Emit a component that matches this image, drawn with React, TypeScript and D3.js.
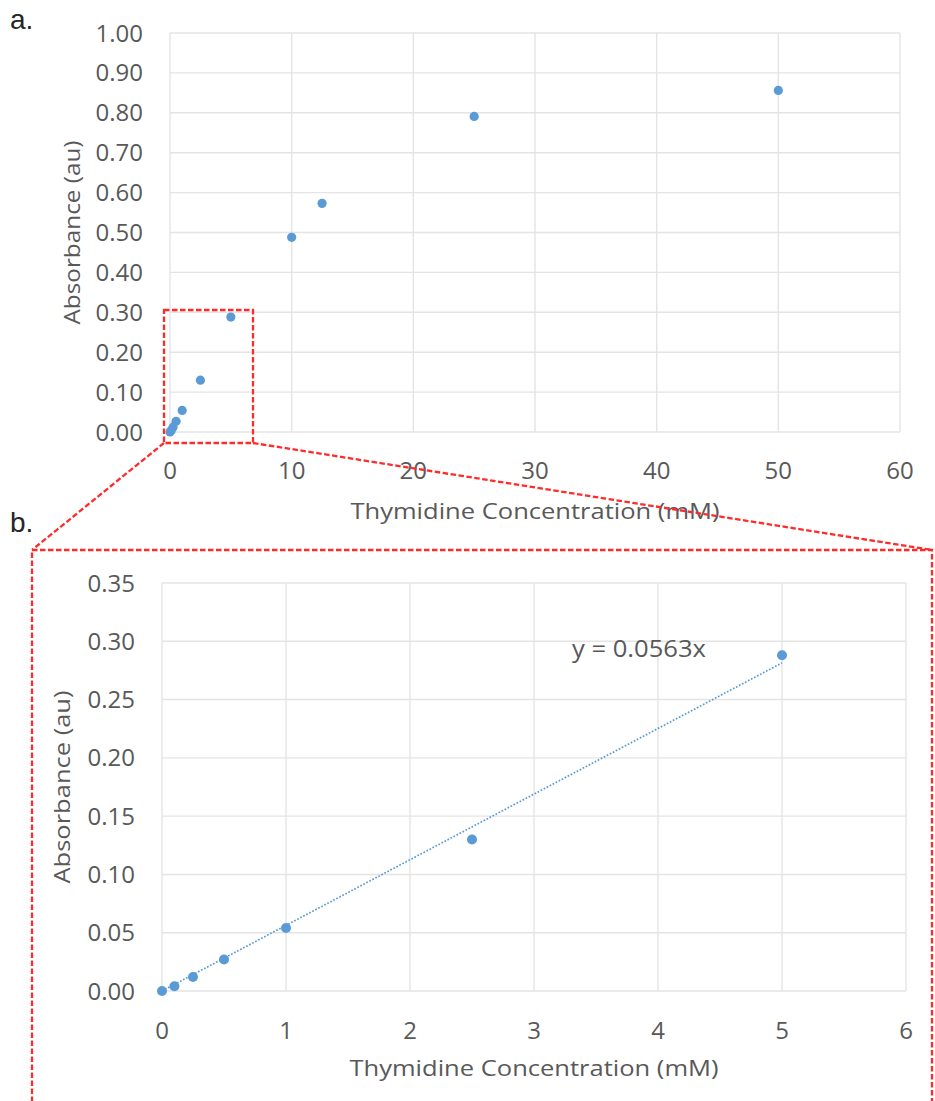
import { useEffect, useRef } from "react";
import * as d3 from "d3";

const BLUE = "#5B9BD5";
const RED = "#FF2B2B";
const GRID = "#E4E4E4";
const TXT = "#595959";
const FONT = "'Open Sans', 'DejaVu Sans', sans-serif";

// measured concentrations (mM) and absorbance (au)
const concAll = [0, 0.1, 0.25, 0.5, 1, 2.5, 5, 10, 12.5, 25, 50];
const absAll = [0, 0.004, 0.012, 0.027, 0.054, 0.13, 0.288, 0.488, 0.573, 0.791, 0.856];
const concLow = [0, 0.1, 0.25, 0.5, 1, 2.5, 5];
const absLow = [0, 0.004, 0.012, 0.027, 0.054, 0.13, 0.288];

const slope = 0.0563;
const trendX = [0, 5];

const topXTicks = [0, 10, 20, 30, 40, 50, 60];
const topYTicks = [0, 0.1, 0.2, 0.3, 0.4, 0.5, 0.6, 0.7, 0.8, 0.9, 1.0];
const botXTicks = [0, 1, 2, 3, 4, 5, 6];
const botYTicks = [0, 0.05, 0.1, 0.15, 0.2, 0.25, 0.3, 0.35];

const xTitle = "Thymidine Concentration (mM)";
const yTitle = "Absorbance (au)";

export default function App() {
  const svgRef = useRef<SVGSVGElement>(null);

  useEffect(() => {
    if (!svgRef.current) return;
    const svg = d3.select(svgRef.current);
    svg.selectAll("*").remove();

    const drawPanel = (opt: {
      x: d3.ScaleLinear<number, number>;
      y: d3.ScaleLinear<number, number>;
      xTicks: number[];
      yTicks: number[];
      yLabelX: number;
      xLabelY: number;
      xTitleY: number;
      yTitleX: number;
      yTitleLen: number;
    }) => {
      const { x, y } = opt;
      const g = svg.append("g");
      const [x0, x1] = x.range();
      const [y0, y1] = y.range();

      // grid
      g.selectAll("line.h").data(opt.yTicks).join("line")
        .attr("x1", x0).attr("x2", x1)
        .attr("y1", d => y(d)).attr("y2", d => y(d))
        .attr("stroke", GRID).attr("stroke-width", 1.4);
      g.selectAll("line.v").data(opt.xTicks).join("line")
        .attr("y1", y0).attr("y2", y1)
        .attr("x1", d => x(d)).attr("x2", d => x(d))
        .attr("stroke", GRID).attr("stroke-width", 1.4);

      // tick labels
      g.selectAll("text.yt").data(opt.yTicks).join("text")
        .attr("x", opt.yLabelX).attr("y", d => y(d) + 8.5)
        .attr("text-anchor", "end").attr("font-size", 24)
        .attr("fill", TXT).attr("font-family", FONT)
        .text(d => d.toFixed(2));
      g.selectAll("text.xt").data(opt.xTicks).join("text")
        .attr("x", d => x(d)).attr("y", opt.xLabelY)
        .attr("text-anchor", "middle").attr("font-size", 24)
        .attr("fill", TXT).attr("font-family", FONT)
        .text(d => String(d));

      // titles
      g.append("text")
        .attr("x", (x0 + x1) / 2).attr("y", opt.xTitleY)
        .attr("text-anchor", "middle").attr("font-size", 22)
        .attr("fill", TXT).attr("font-family", FONT)
        .attr("textLength", 369).attr("lengthAdjust", "spacingAndGlyphs")
        .text(xTitle);
      const cy = (y0 + y1) / 2;
      g.append("text")
        .attr("transform", `translate(${opt.yTitleX},${cy}) rotate(-90)`)
        .attr("text-anchor", "middle").attr("dy", "0.36em").attr("font-size", 22)
        .attr("fill", TXT).attr("font-family", FONT)
        .attr("textLength", opt.yTitleLen).attr("lengthAdjust", "spacingAndGlyphs")
        .text(yTitle);

      return g;
    };

    // ---- panel a ----
    const xa = d3.scaleLinear().domain([0, 60]).range([170, 900]);
    const ya = d3.scaleLinear().domain([0, 1]).range([432, 33]);
    const ga = drawPanel({
      x: xa, y: ya, xTicks: topXTicks, yTicks: topYTicks,
      yLabelX: 143, xLabelY: 479, xTitleY: 519, yTitleX: 72, yTitleLen: 184,
    });
    ga.selectAll("circle").data(concAll).join("circle")
      .attr("cx", d => xa(d)).attr("cy", (_, i) => ya(absAll[i]))
      .attr("r", 4.6).attr("fill", BLUE);

    // ---- panel b ----
    const xb = d3.scaleLinear().domain([0, 6]).range([162, 906]);
    const yb = d3.scaleLinear().domain([0, 0.35]).range([991, 583]);
    const gb = drawPanel({
      x: xb, y: yb, xTicks: botXTicks, yTicks: botYTicks,
      yLabelX: 135, xLabelY: 1039, xTitleY: 1076, yTitleX: 62, yTitleLen: 193,
    });
    const trend = d3.line<number>().x(d => xb(d)).y(d => yb(slope * d));
    gb.append("path").datum(trendX)
      .attr("d", trend).attr("fill", "none")
      .attr("stroke", BLUE).attr("stroke-width", 1.7)
      .attr("stroke-dasharray", "1.7,1.7");
    gb.selectAll("circle").data(concLow).join("circle")
      .attr("cx", d => xb(d)).attr("cy", (_, i) => yb(absLow[i]))
      .attr("r", 5).attr("fill", BLUE);
    gb.append("text")
      .attr("x", 572).attr("y", 657)
      .attr("font-size", 23).attr("fill", TXT).attr("font-family", FONT)
      .attr("textLength", 134).attr("lengthAdjust", "spacingAndGlyphs")
      .text(`y = ${slope}x`);

    // ---- zoom box and connectors ----
    const zx0 = 164, zx1 = 253, zy0 = 310, zy1 = 443;
    const red = svg.append("g").attr("fill", "none").attr("stroke", RED)
      .attr("stroke-width", 2.3).attr("stroke-dasharray", "5.5,2.5");
    red.append("rect").attr("x", zx0).attr("y", zy0)
      .attr("width", zx1 - zx0).attr("height", zy1 - zy0);
    red.append("path").attr("d", `M${zx0},${zy1}L32,550`);
    red.append("path").attr("d", `M${zx1},${zy1}L932,550`);
    red.append("path").attr("d", `M32,1110L32,550L932,550L932,1110`);

    // panel letters
    svg.append("text").attr("x", 10).attr("y", 29)
      .attr("font-size", 28).attr("fill", "#262626")
      .attr("font-family", "'Liberation Sans', Arial, sans-serif").text("a.");
    svg.append("text").attr("x", 10).attr("y", 532)
      .attr("font-size", 28).attr("fill", "#262626")
      .attr("font-family", "'Liberation Sans', Arial, sans-serif").text("b.");
  }, []);

  return (
    <div style={{ position: "absolute", left: 0, top: 0, width: 935, height: 1101, background: "#fff" }}>
      <svg ref={svgRef} width={935} height={1101} />
    </div>
  );
}
